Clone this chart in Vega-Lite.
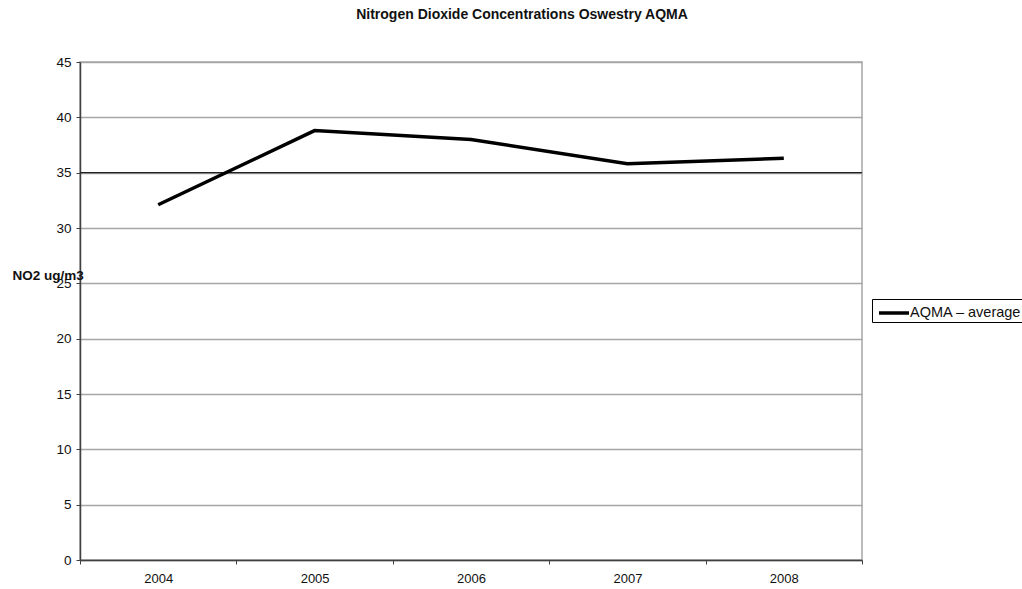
{
  "$schema": "https://vega.github.io/schema/vega-lite/v6.json",
  "width": 782,
  "height": 498,
  "autosize": {"type": "none"},
  "padding": {"left": 80, "top": 62, "right": 160, "bottom": 29},
  "background": "white",
  "title": {
    "text": "Nitrogen Dioxide Concentrations Oswestry AQMA",
    "font": "Liberation Sans",
    "fontSize": 14,
    "fontWeight": "bold",
    "color": "#111111",
    "anchor": "middle",
    "frame": "group",
    "dx": 51,
    "offset": 33
  },
  "config": {
    "view": {"stroke": "#a6a6a6", "strokeWidth": 1.5},
    "font": "Liberation Sans"
  },
  "layer": [
    {
      "data": {"values": [{"limit": 35}]},
      "mark": {"type": "rule", "color": "#222222", "strokeWidth": 1.2},
      "encoding": {
        "y": {"field": "limit", "type": "quantitative", "scale": {"domain": [0, 45], "nice": false}}
      }
    },
    {
      "data": {
        "values": [
          {"year": "2004", "no2": 32.1, "series": "AQMA – average"},
          {"year": "2005", "no2": 38.8, "series": "AQMA – average"},
          {"year": "2006", "no2": 38.0, "series": "AQMA – average"},
          {"year": "2007", "no2": 35.8, "series": "AQMA – average"},
          {"year": "2008", "no2": 36.3, "series": "AQMA – average"}
        ]
      },
      "mark": {"type": "line", "strokeWidth": 3.5, "strokeJoin": "miter"},
      "encoding": {
        "x": {
          "field": "year",
          "type": "ordinal",
          "scale": {"type": "band", "paddingInner": 0, "paddingOuter": 0},
          "axis": {
            "title": null,
            "labelAngle": 0,
            "labelFont": "Liberation Sans",
            "labelFontSize": 13,
            "labelColor": "#111111",
            "labelPadding": 8,
            "tickBand": "extent",
            "tickSize": 4,
            "tickColor": "#404040",
            "domainColor": "#404040",
            "domainWidth": 1.5,
            "grid": false
          }
        },
        "y": {
          "field": "no2",
          "type": "quantitative",
          "scale": {"domain": [0, 45], "nice": false},
          "axis": {
            "values": [0, 5, 10, 15, 20, 25, 30, 35, 40, 45],
            "title": "NO2 ug/m3",
            "titleAngle": 0,
            "titleAlign": "left",
            "titleBaseline": "alphabetic",
            "titleX": -68,
            "titleY": 217,
            "titleFont": "Liberation Sans",
            "titleFontSize": 13.5,
            "titleFontWeight": "bold",
            "titleColor": "#111111",
            "labelFont": "Liberation Sans",
            "labelFontSize": 13.5,
            "labelColor": "#111111",
            "labelPadding": 5,
            "tickSize": 4,
            "tickColor": "#404040",
            "domainColor": "#404040",
            "domainWidth": 1.5,
            "grid": true,
            "gridColor": "#a6a6a6",
            "gridWidth": 1.5
          }
        },
        "color": {
          "field": "series",
          "type": "nominal",
          "scale": {"range": ["#000000"]},
          "legend": {
            "title": null,
            "orient": "none",
            "legendX": 792,
            "legendY": 237,
            "symbolType": "M-0.7,0H2.3",
            "symbolSize": 400,
            "symbolStrokeWidth": 3.5,
            "labelFont": "Liberation Sans",
            "labelFontSize": 14.5,
            "labelColor": "#111111",
            "labelOffset": 12,
            "padding": 2,
            "strokeColor": "#000000"
          }
        }
      }
    }
  ]
}
